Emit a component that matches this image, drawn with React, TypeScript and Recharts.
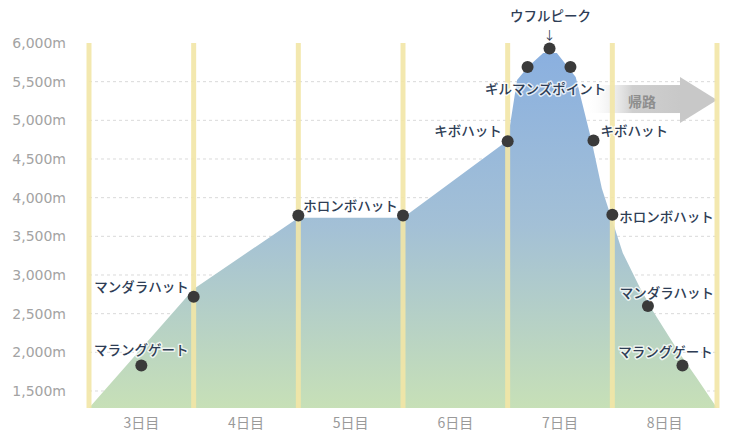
import React from 'react';
import {
  ComposedChart,
  Area,
  Scatter,
  XAxis,
  YAxis,
  CartesianGrid,
  ReferenceLine,
  ReferenceArea,
} from 'recharts';

// Altitude profile of the route (day index, metres)
const profileDay = [0, 1, 2, 3, 4, 4.09, 4.2, 4.34, 4.47, 4.65, 4.8, 4.9, 5.0, 5.1, 5.26, 5.38, 5.64, 5.8, 5.96, 6];
const profileAlt = [1280, 2820, 3740, 3740, 4740, 5520, 5700, 5870, 5870, 5560, 4745, 4120, 3700, 3285, 2845, 2550, 1990, 1680, 1360, 1280];

// Stops (dots)
const stopNames = [
  'マラングゲート',
  'マンダラハット',
  'ホロンボハット',
  'ホロンボハット',
  'キボハット',
  'ギルマンズポイント',
  'ウフルピーク',
  'ギルマンズポイント',
  'キボハット',
  'ホロンボハット',
  'マンダラハット',
  'マラングゲート',
];
const stopDay = [0.5, 1.0, 2.0, 3.0, 4.0, 4.19, 4.4, 4.6, 4.82, 5.0, 5.34, 5.67];
const stopAlt = [1830, 2720, 3770, 3770, 4730, 5690, 5930, 5690, 4740, 3780, 2600, 1830];

// Axes
const dayTicks = [0.5, 1.5, 2.5, 3.5, 4.5, 5.5];
const dayLabels = ['3日目', '4日目', '5日目', '6日目', '7日目', '8日目'];
const dayBoundaries = [0, 1, 2, 3, 4, 5, 6];
const altTicks = [1500, 2000, 2500, 3000, 3500, 4000, 4500, 5000, 5500, 6000];
const gridAlt = [1500, 2000, 2500, 3000, 3500, 4000, 4500, 5000, 5500];

// Return arrow annotation
const returnLabel = '帰路';
const returnFrom = 4.74;
const returnTo = 6;
const returnLow = 4965;
const returnHigh = 5560;

// label placement (style, not data)
type Place = { anchor: 'start' | 'middle' | 'end'; dx: number; dy: number; arrow?: boolean } | null;
const labelPlacement: Place[] = [
  { anchor: 'middle', dx: 0, dy: -16 },
  { anchor: 'end', dx: -5, dy: -11 },
  { anchor: 'start', dx: 5, dy: -10 },
  null,
  { anchor: 'end', dx: -6, dy: -11 },
  { anchor: 'middle', dx: 18, dy: 21 },
  { anchor: 'middle', dx: 1, dy: -33, arrow: true },
  null,
  { anchor: 'start', dx: 7, dy: -10 },
  { anchor: 'start', dx: 7, dy: 1 },
  { anchor: 'middle', dx: 19, dy: -14 },
  { anchor: 'middle', dx: -17, dy: -14 },
];

const profileData = profileDay.map((d, i) => ({ day: d, alt: profileAlt[i] }));
const stopData = stopDay.map((d, i) => ({ day: d, alt: stopAlt[i], name: stopNames[i], idx: i }));

const labelFont = '"Noto Sans CJK JP", "Noto Sans", sans-serif';

const StopShape = (props: any) => {
  const { cx, cy, payload } = props;
  if (cx == null || cy == null) return null;
  const place = labelPlacement[payload.idx];
  return (
    <g>
      <circle cx={cx} cy={cy} r={6} fill="#3a3a3a" />
      {place && (
        <text
          x={cx + place.dx}
          y={cy + place.dy}
          textAnchor={place.anchor}
          dominantBaseline="central"
          fontFamily={labelFont}
          fontSize={13.5}
          fontWeight={500}
          fill="#2e3d55"
          stroke="#ffffff"
          strokeWidth={3}
          strokeOpacity={0.75}
          strokeLinejoin="round"
          paintOrder="stroke"
        >
          {payload.name}
        </text>
      )}
      {place && place.arrow && (
        <text
          x={cx}
          y={cy - 14}
          textAnchor="middle"
          dominantBaseline="central"
          fontFamily={labelFont}
          fontSize={12}
          fill="#2e3d55"
        >
          ↓
        </text>
      )}
    </g>
  );
};

const ArrowShape = (props: any) => {
  const { x, y, width, height } = props;
  if (x == null) return null;
  const headW = 37;
  const bodyTop = y + 8;
  const bodyBot = y + height - 10;
  const hx = x + width - headW;
  return (
    <g>
      <rect x={x} y={bodyTop} width={hx - x} height={bodyBot - bodyTop} fill="url(#arrowBody)" />
      <polygon points={`${hx},${y} ${x + width},${y + height / 2} ${hx},${y + height}`} fill="#c8c8c8" />
      <text
        x={x + 57}
        y={y + height / 2 + 1}
        textAnchor="middle"
        dominantBaseline="central"
        fontFamily={labelFont}
        fontSize={14}
        fontWeight={700}
        fill="#8e8e8e"
      >
        {returnLabel}
      </text>
    </g>
  );
};

export default function App() {
  return (
    <div style={{ position: 'absolute', left: 0, top: 0, width: 730, height: 439, background: '#fff' }}>
      <ComposedChart
        width={730}
        height={439}
        data={profileData}
        margin={{ top: 43, right: 13, bottom: 0, left: 0 }}
      >
        <defs>
          <linearGradient id="altFill" x1="0" y1="43" x2="0" y2="408" gradientUnits="userSpaceOnUse">
            <stop offset="0%" stopColor="#89afe0" />
            <stop offset="50%" stopColor="#a3c0d6" />
            <stop offset="100%" stopColor="#c7e0b7" />
          </linearGradient>
          <linearGradient id="arrowBody" x1="0" y1="0" x2="1" y2="0">
            <stop offset="0%" stopColor="#ffffff" stopOpacity={0} />
            <stop offset="50%" stopColor="#cfcfcf" stopOpacity={1} />
            <stop offset="100%" stopColor="#c8c8c8" stopOpacity={1} />
          </linearGradient>
        </defs>
        <CartesianGrid
          vertical={false}
          horizontalValues={gridAlt}
          stroke="#dadada"
          strokeDasharray="3 3"
        />
        <XAxis
          type="number"
          dataKey="day"
          domain={[0, 6]}
          ticks={dayTicks}
          interval={0}
          tickFormatter={(v: number, i: number) => dayLabels[i]}
          axisLine={false}
          tickLine={false}
          tickSize={0}
          tickMargin={10}
          height={31}
          tick={{ fill: '#9a9a9a', fontSize: 14, fontFamily: labelFont }}
        />
        <YAxis
          type="number"
          domain={[1280, 6000]}
          ticks={altTicks}
          interval={0}
          tickFormatter={(v: number) => v.toLocaleString('en-US') + 'm'}
          axisLine={false}
          tickLine={false}
          tickSize={0}
          tickMargin={23}
          width={89}
          tick={{ fill: '#a3a3a3', fontSize: 14, fontFamily: '"DejaVu Sans", sans-serif' }}
        />
        <Area
          type="linear"
          dataKey="alt"
          stroke="none"
          fill="url(#altFill)"
          fillOpacity={1}
          isAnimationActive={false}
          dot={false}
          activeDot={false}
        />
        <ReferenceArea
          x1={returnFrom}
          x2={returnTo}
          y1={returnLow}
          y2={returnHigh}
          shape={(p: any) => <ArrowShape {...p} />}
        />
        {dayBoundaries.map((d) => (
          <ReferenceLine key={d} x={d} stroke="#f2e5a6" strokeWidth={5} strokeOpacity={0.9} />
        ))}
        <Scatter
          data={stopData}
          dataKey="alt"
          isAnimationActive={false}
          shape={(p: any) => <StopShape {...p} />}
        />
      </ComposedChart>
    </div>
  );
}
